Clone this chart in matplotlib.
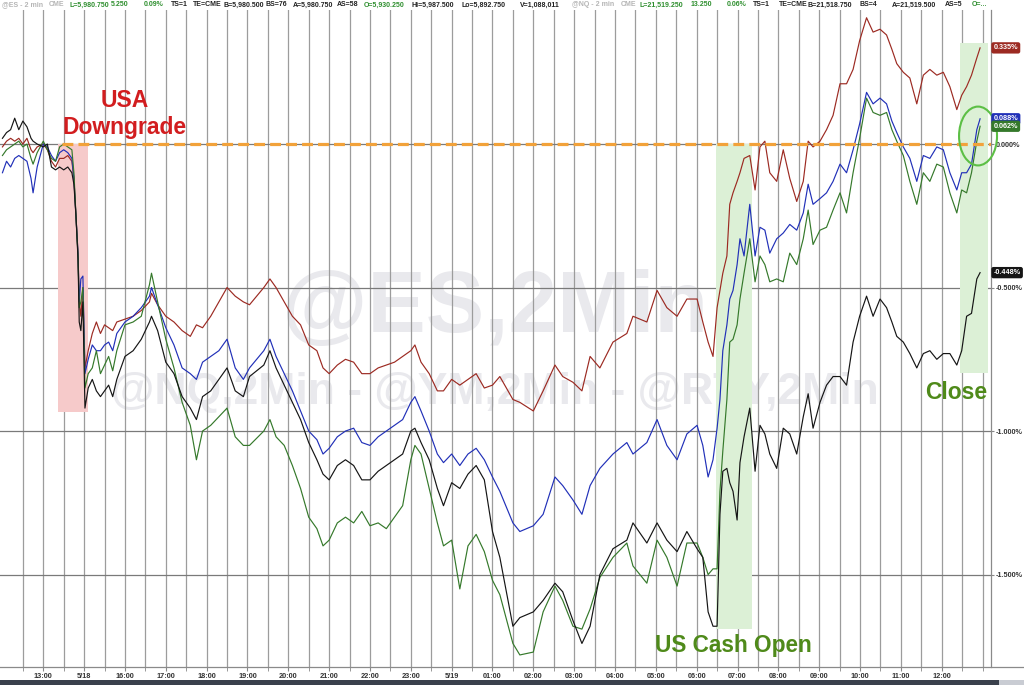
import matplotlib
matplotlib.use("Agg")
import matplotlib.pyplot as plt
from matplotlib.patches import Rectangle, Ellipse
from matplotlib.lines import Line2D

plt.rcParams['font.family'] = ['Liberation Sans', 'DejaVu Sans']

# ---------------- data (percent change, x = trading hours since 12:00 Fri) ----------------
hours = [0.00, 0.10, 0.20, 0.30, 0.40, 0.50, 0.60, 0.70, 0.75, 0.85,
         1.00, 1.10, 1.20, 1.30, 1.40, 1.50, 1.60, 1.70, 1.75, 1.80,
         1.85, 1.88, 1.92, 1.97, 2.02, 2.10, 2.20, 2.30, 2.40, 2.50,
         2.60, 2.70, 2.80, 3.00, 3.20, 3.40, 3.60, 3.65, 3.80, 4.00,
         4.20, 4.40, 4.60, 4.75, 4.90, 5.10, 5.30, 5.50, 5.70, 5.90,
         6.05, 6.40, 6.55, 6.70, 6.90, 7.10, 7.30, 7.50, 7.70, 7.85,
         8.00, 8.20, 8.40, 8.60, 8.80, 9.00, 9.20, 9.40, 9.60, 9.80,
         10.00, 10.10, 10.25, 10.45, 10.65, 10.80, 11.00, 11.20, 11.40, 11.60,
         11.80, 12.00, 12.18, 12.50, 12.67, 13.00, 13.24, 13.53, 13.72, 13.97,
         14.19, 14.39, 14.63, 14.95, 15.29, 15.44, 15.78, 16.03, 16.27, 16.52,
         16.76, 17.01, 17.15, 17.28, 17.40, 17.50, 17.57, 17.64, 17.74, 17.81,
         17.89, 17.99, 18.06, 18.16, 18.30, 18.43, 18.55, 18.67, 18.79, 18.96,
         19.12, 19.28, 19.45, 19.61, 19.73, 19.85, 20.02, 20.18, 20.34, 20.51,
         20.67, 20.83, 20.99, 21.16, 21.32, 21.49, 21.65, 21.78, 21.90, 22.06,
         22.22, 22.39, 22.55, 22.71, 22.88, 23.04, 23.20, 23.37, 23.49, 23.61,
         23.73, 23.86, 23.94]

red = [-0.01, 0.01, 0.02, 0.01, 0.02, 0.00, 0.02, -0.02, -0.03, -0.01,
       0.00, -0.02, -0.06, -0.08, -0.05, -0.05, -0.04, -0.06, -0.12, -0.25,
       -0.38, -0.55, -0.60, -0.50, -0.78, -0.72, -0.66, -0.62, -0.66, -0.63,
       -0.64, -0.65, -0.62, -0.61, -0.60, -0.58, -0.55, -0.52, -0.56, -0.60,
       -0.62, -0.65, -0.67, -0.63, -0.64, -0.60, -0.55, -0.50, -0.53, -0.55,
       -0.56, -0.50, -0.47, -0.50, -0.55, -0.60, -0.63, -0.70, -0.72, -0.78,
       -0.80, -0.77, -0.75, -0.76, -0.80, -0.80, -0.78, -0.77, -0.76, -0.74,
       -0.72, -0.70, -0.76, -0.80, -0.86, -0.86, -0.82, -0.84, -0.82, -0.80,
       -0.85, -0.84, -0.81, -0.89, -0.90, -0.93, -0.86, -0.77, -0.81, -0.83,
       -0.86, -0.74, -0.78, -0.69, -0.66, -0.60, -0.62, -0.51, -0.57, -0.60,
       -0.54, -0.54, -0.62, -0.69, -0.74, -0.57, -0.51, -0.45, -0.39, -0.21,
       -0.17, -0.13, -0.10, -0.05, -0.04, -0.16, -0.01, 0.01, -0.10, -0.13,
       -0.02, -0.12, -0.20, -0.13, 0.01, -0.01, 0.01, 0.05, 0.10, 0.21,
       0.21, 0.26, 0.36, 0.44, 0.39, 0.40, 0.38, 0.33, 0.28, 0.25,
       0.23, 0.14, 0.24, 0.26, 0.24, 0.25, 0.20, 0.12, 0.17, 0.20,
       0.24, 0.30, 0.335]

blue = [-0.10, -0.06, -0.08, -0.05, -0.04, -0.05, -0.06, -0.12, -0.17, -0.08,
        0.00, -0.01, -0.04, -0.06, -0.03, -0.02, -0.03, -0.05, -0.12, -0.25,
        -0.38, -0.55, -0.47, -0.46, -0.80, -0.75, -0.70, -0.72, -0.72, -0.70,
        -0.69, -0.72, -0.66, -0.62, -0.60, -0.57, -0.53, -0.50, -0.56, -0.64,
        -0.70, -0.78, -0.80, -0.82, -0.76, -0.74, -0.72, -0.68, -0.78, -0.82,
        -0.78, -0.72, -0.68, -0.74, -0.80, -0.86, -0.93, -1.00, -1.03, -1.08,
        -1.06, -1.02, -1.00, -0.99, -1.04, -1.05, -1.02, -1.00, -0.98, -0.96,
        -0.90, -0.88, -0.93, -1.00, -1.08, -1.11, -1.08, -1.12, -1.08, -1.06,
        -1.10, -1.16, -1.21, -1.32, -1.35, -1.33, -1.29, -1.16, -1.19, -1.24,
        -1.29, -1.19, -1.13, -1.08, -1.04, -1.08, -1.04, -0.96, -1.05, -1.10,
        -1.01, -0.98, -1.05, -1.16, -1.10, -0.99, -0.89, -0.72, -0.63, -0.54,
        -0.51, -0.42, -0.33, -0.39, -0.21, -0.39, -0.29, -0.30, -0.38, -0.33,
        -0.31, -0.28, -0.30, -0.24, -0.14, -0.21, -0.19, -0.17, -0.13, -0.07,
        -0.10, -0.02, 0.07, 0.18, 0.14, 0.16, 0.14, 0.08, 0.04, -0.01,
        -0.05, -0.13, -0.04, -0.05, -0.01, -0.02, -0.10, -0.16, -0.10, -0.10,
        -0.07, 0.05, 0.088]

green = [-0.04, -0.02, -0.01, 0.00, 0.01, -0.01, 0.00, -0.05, -0.07, -0.03,
         0.01, -0.02, -0.05, -0.06, -0.01, 0.00, -0.01, -0.02, -0.10, -0.25,
         -0.39, -0.57, -0.55, -0.50, -0.85, -0.80, -0.78, -0.72, -0.80, -0.77,
         -0.74, -0.79, -0.72, -0.63, -0.62, -0.60, -0.49, -0.45, -0.55, -0.68,
         -0.78, -0.90, -0.98, -1.10, -1.00, -0.98, -0.95, -0.92, -1.02, -1.05,
         -1.05, -1.00, -0.96, -1.02, -1.05, -1.12, -1.20, -1.30, -1.34, -1.40,
         -1.38, -1.32, -1.30, -1.32, -1.28, -1.33, -1.32, -1.34, -1.30, -1.26,
         -1.10, -1.05, -1.08, -1.20, -1.32, -1.40, -1.38, -1.55, -1.40, -1.36,
         -1.42, -1.52, -1.57, -1.74, -1.78, -1.77, -1.63, -1.54, -1.59, -1.68,
         -1.69, -1.62, -1.51, -1.44, -1.39, -1.47, -1.53, -1.38, -1.44, -1.54,
         -1.39, -1.39, -1.44, -1.50, -1.48, -1.48, -1.21, -1.07, -0.89, -0.69,
         -0.68, -0.63, -0.54, -0.45, -0.33, -0.48, -0.39, -0.42, -0.48, -0.47,
         -0.48, -0.38, -0.42, -0.33, -0.23, -0.35, -0.30, -0.29, -0.23, -0.17,
         -0.24, -0.10, 0.02, 0.16, 0.11, 0.10, 0.11, 0.05, 0.01, -0.04,
         -0.13, -0.21, -0.10, -0.13, -0.07, -0.08, -0.17, -0.24, -0.16, -0.17,
         -0.10, 0.01, 0.062]

black = [0.02, 0.04, 0.05, 0.09, 0.05, 0.08, 0.06, 0.02, 0.01, 0.00,
         -0.01, 0.00, -0.08, -0.09, -0.08, -0.09, -0.08, -0.10, -0.14, -0.25,
         -0.40, -0.62, -0.65, -0.55, -0.92, -0.85, -0.82, -0.86, -0.88, -0.86,
         -0.84, -0.88, -0.82, -0.74, -0.72, -0.68, -0.62, -0.60, -0.65, -0.76,
         -0.80, -0.88, -0.92, -0.96, -0.88, -0.86, -0.82, -0.78, -0.86, -0.88,
         -0.81, -0.77, -0.72, -0.78, -0.84, -0.90, -0.96, -1.04, -1.10, -1.15,
         -1.17, -1.12, -1.10, -1.12, -1.17, -1.17, -1.14, -1.12, -1.10, -1.08,
         -1.00, -0.99, -1.04, -1.10, -1.20, -1.26, -1.18, -1.20, -1.15, -1.12,
         -1.17, -1.35, -1.44, -1.68, -1.65, -1.63, -1.59, -1.53, -1.56, -1.66,
         -1.74, -1.68, -1.50, -1.41, -1.38, -1.32, -1.39, -1.32, -1.38, -1.42,
         -1.35, -1.41, -1.44, -1.63, -1.68, -1.68, -1.29, -1.14, -1.13, -1.18,
         -1.21, -1.31, -1.11, -1.02, -0.92, -1.14, -0.98, -1.01, -1.08, -1.13,
         -0.99, -1.01, -1.08, -0.95, -0.87, -0.99, -0.90, -0.84, -0.81, -0.81,
         -0.84, -0.69, -0.60, -0.53, -0.60, -0.54, -0.57, -0.62, -0.67, -0.69,
         -0.73, -0.78, -0.73, -0.72, -0.75, -0.73, -0.73, -0.77, -0.72, -0.60,
         -0.59, -0.47, -0.448]

tick_hours = list(range(1, 24))
tick_labels = ["13:00", "5/18", "16:00", "17:00", "18:00", "19:00", "20:00", "21:00",
               "22:00", "23:00", "5/19", "01:00", "02:00", "03:00", "04:00", "05:00",
               "06:00", "07:00", "08:00", "09:00", "10:00", "11:00", "12:00"]
y_ticks = [0.0, -0.5, -1.0, -1.5]
y_tick_labels = ["0.000%", "-0.500%", "-1.000%", "-1.500%"]

series = [("red", red, "#9c2a22"), ("blue", blue, "#2130b8"),
          ("green", green, "#35792b"), ("black", black, "#151515")]

# ---------------- figure ----------------
W, H = 1024, 685
fig = plt.figure(figsize=(W / 100, H / 100), dpi=100)
fig.patch.set_facecolor("white")
ax = fig.add_axes([0, 18 / H, 990.7 / W, 657 / H])
ax.set_xlim(-0.06, 24.2)
ax.set_ylim(-1.822, 0.467)

# watermarks
ax.text(12.06, -0.575, "@ES,2Min", fontsize=63, fontweight="bold", color="#e9e9ed",
        ha="center", va="center", zorder=0.5)
ax.text(12.06, -0.864, "@NQ,2Min - @YM,2Min - @RTY,2Min", fontsize=32, fontweight="bold",
        color="#e9e9ed", ha="center", va="center", zorder=0.5)

# shaded regions
ax.add_patch(Rectangle((1.36, -0.934), 0.73, 0.934, facecolor="#f6caca", edgecolor="none", zorder=0.8))
ax.add_patch(Rectangle((17.47, -1.69), 0.88, 1.69, facecolor="#dcf0d6", edgecolor="none", zorder=0.8))
ax.add_patch(Rectangle((23.45, -0.797), 0.68, 1.149, facecolor="#dcf0d6", edgecolor="none", zorder=0.8))

# grid
minor = [0.5 + 0.5 * i for i in range(48)]
ax.set_xticks(minor, minor=True)
ax.set_xticks(tick_hours)
ax.set_xticklabels(tick_labels)
ax.grid(which="both", axis="x", color="#9c9c9c", lw=0.9, zorder=1)
ax.set_yticks(y_ticks)
ax.set_yticklabels(y_tick_labels)
ax.yaxis.tick_right()
ax.grid(which="major", axis="y", color="#7a7a7a", lw=0.9, zorder=1)
ax.set_axisbelow(True)

for s in ["left", "top", "bottom"]:
    ax.spines[s].set_visible(False)
ax.spines["right"].set_color("#8a8a8a")
ax.spines["right"].set_linewidth(0.9)

ax.tick_params(axis="x", which="both", direction="out", length=3, color="#888888",
               labelsize=5.3, labelcolor="#333333", pad=1.5)
for t in ax.get_xticklabels():
    t.set_fontweight("bold")
ax.tick_params(axis="y", which="both", direction="out", length=2.5, color="#888888",
               labelsize=5.2, labelcolor="#333333", pad=0.8)
for t in ax.get_yticklabels():
    t.set_fontweight("bold")

# lines
for name, vals, col in series:
    ax.plot(hours, vals, color=col, lw=0.85, zorder=3)

# zero reference dashed line
ax.plot([1.46, 24.2], [0, 0], color="#f2a23a", lw=2.3, dashes=[3.4, 1.6], zorder=4,
        solid_capstyle="butt")

# circle at close
ax.add_patch(Ellipse((23.89, 0.028), 0.93, 0.205, facecolor="none", edgecolor="#5cbf45",
                     lw=1.5, zorder=5, clip_on=False))

# annotations
ax.text(3.0, 0.153, "USA", fontsize=16.5, fontweight="bold", color="#d21d1f",
        ha="center", va="center", zorder=6)
ax.text(3.0, 0.056, "Downgrade", fontsize=16.5, fontweight="bold", color="#d21d1f",
        ha="center", va="center", zorder=6)
ax.text(17.9, -1.746, "US Cash Open", fontsize=16.3, fontweight="bold", color="#4f8a1a",
        ha="center", va="center", zorder=6)
ax.text(23.36, -0.864, "Close", fontsize=16.5, fontweight="bold", color="#4f8a1a",
        ha="center", va="center", zorder=6)

# last-value boxes
for name, vals, col in series:
    v = vals[-1]
    ax.annotate(f"{v:.3f}%", xy=(1.0, v), xycoords=("axes fraction", "data"),
                xytext=(2.0, 0), textcoords="offset points", ha="left", va="center",
                fontsize=5.2, fontweight="bold", color="white", annotation_clip=False,
                bbox=dict(boxstyle="round,pad=0.3,rounding_size=0.3", fc=col, ec="none"),
                zorder=7)

# bottom axis line across the full width, footer bar
fig.add_artist(Line2D([0, 1], [18 / H, 18 / H], transform=fig.transFigure, color="#8a8a8a", lw=0.9))
fig.patches.append(Rectangle((0, 0), 1, 5 / H, transform=fig.transFigure, facecolor="#3a404c",
                             edgecolor="none"))
fig.patches.append(Rectangle((999 / W, 0), 25 / W, 5 / H, transform=fig.transFigure,
                             facecolor="#c9ccd3", edgecolor="none"))

# header quote strip
hdr = [(2, "@ES - 2 min", "#b5b5b5"), (49, "CME", "#b5b5b5"), (69, "L=5,980.750", "#2f8f2f"),
       (111, "5.250", "#2f8f2f"), (144, "0.09%", "#2f8f2f"), (171, "TS=1", "#222222"),
       (193, "TE=CME", "#222222"), (223, "B=5,980.500", "#222222"), (266, "BS=76", "#222222"),
       (293, "A=5,980.750", "#222222"), (337, "AS=58", "#222222"), (364, "O=5,930.250", "#2f8f2f"),
       (412, "Hi=5,987.500", "#222222"), (462, "Lo=5,892.750", "#222222"),
       (520, "V=1,088,011", "#222222"), (572, "@NQ - 2 min", "#b5b5b5"), (621, "CME", "#b5b5b5"),
       (640, "L=21,519.250", "#2f8f2f"), (691, "13.250", "#2f8f2f"), (727, "0.06%", "#2f8f2f"),
       (753, "TS=1", "#222222"), (779, "TE=CME", "#222222"), (808, "B=21,518.750", "#222222"),
       (860, "BS=4", "#222222"), (892, "A=21,519.500", "#222222"), (945, "AS=5", "#222222"),
       (972, "O=...", "#2f8f2f")]
for x, s, c in hdr:
    fig.text(x / W, 1 - 5 / H, s, fontsize=5, fontweight="bold", color=c, ha="left", va="center")

fig.savefig("out.png", dpi=100)
